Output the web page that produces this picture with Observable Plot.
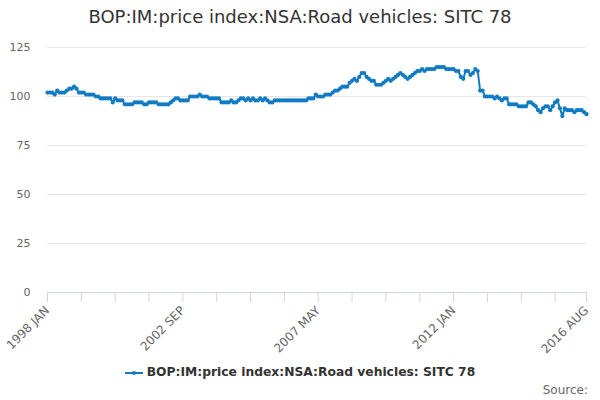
<!DOCTYPE html>
<html><head><meta charset="utf-8">
<script src="https://cdn.jsdelivr.net/npm/d3@7"></script>
<script src="https://cdn.jsdelivr.net/npm/@observablehq/plot@0.6"></script>
<style>
body{margin:0;font-family:"DejaVu Sans",sans-serif;background:#fff;}
#wrap{position:relative;width:600px;height:400px;overflow:hidden;}
#title{position:absolute;top:6px;left:0;width:600px;text-align:center;font-size:18px;color:#333;}
#chart{position:absolute;top:36px;left:0;}
#legend{position:absolute;top:365px;left:0;width:600px;text-align:center;font-size:12.3px;font-weight:bold;color:#333;}
#legend svg{vertical-align:middle;margin-right:4px;}
#source{position:absolute;top:383px;right:12px;font-size:12px;color:#666;}
</style></head>
<body>
<div id="wrap">
  <div id="title"></div>
  <div id="chart"></div>
  <div id="legend"></div>
  <div id="source">Source:</div>
</div>
<script>
const titleText = "BOP:IM:price index:NSA:Road vehicles: SITC 78";
const seriesName = "BOP:IM:price index:NSA:Road vehicles: SITC 78";
const startYear = 1998;
const monthNames = ["JAN","FEB","MAR","APR","MAY","JUN","JUL","AUG","SEP","OCT","NOV","DEC"];
const labelledMonths = ["1998 JAN","2002 SEP","2007 MAY","2012 JAN","2016 AUG"];
const yTicks = [0,25,50,75,100,125];
const values = [
  102,102,102,101,103,102,102,102,103,104,104,105,
  104,102,102,102,101,101,101,101,100,100,99,99,
  99,99,99,97,99,98,98,98,96,96,96,96,
  97,97,97,97,96,96,97,97,97,97,96,96,
  96,96,96,97,98,99,99,98,98,98,98,100,
  100,100,100,101,100,100,100,99,99,99,99,99,
  97,97,97,97,98,97,97,98,99,99,98,99,
  98,99,98,98,99,98,99,98,97,97,98,98,
  98,98,98,98,98,98,98,98,98,98,98,98,
  99,99,99,101,100,100,100,101,101,101,102,103,
  103,104,105,105,105,107,108,109,108,110,112,112,
  110,109,108,108,106,106,106,107,108,109,108,109,
  110,111,112,111,110,109,110,111,112,113,113,114,
  113,114,114,114,114,115,115,115,115,114,114,114,
  114,113,113,110,109,113,113,111,112,114,113,103,
  103,100,100,100,100,99,100,99,98,99,99,96,
  96,96,96,95,95,95,95,97,97,96,95,93,
  92,94,95,95,93,95,97,98,94,90,94,93,
  93,93,92,93,93,93,92,91
];
const color = "#117bc4";

const months = values.map((v, i) => (startYear + Math.floor(i / 12)) + " " + monthNames[i % 12]);
const data = values.map((v, i) => ({month: months[i], value: v}));
const tickMonths = months.filter((m, i) => i % 14 === 0 || i === months.length - 1);

document.getElementById("title").textContent = titleText;

const chart = Plot.plot({
  width: 600, height: 320,
  marginTop: 11, marginBottom: 64, marginLeft: 47, marginRight: 14,
  x: {type: "point", domain: months, padding: 0},
  y: {domain: [0, 125]},
  style: {fontFamily: "DejaVu Sans", fontSize: "11px", color: "#666", background: "transparent"},
  marks: [
    Plot.gridY(yTicks, {stroke: "#e6e6e6", strokeOpacity: 1}),
    Plot.axisY(yTicks, {tickSize: 0, tickPadding: 17, label: null, fill: "#666"}),
    Plot.ruleY([0], {stroke: "#ccd6eb"}),
    Plot.axisX(tickMonths, {tickSize: 10, stroke: "#ccd6eb", strokeOpacity: 1, tickFormat: () => "", label: null}),
    Plot.axisX(labelledMonths, {tickSize: 0, tickRotate: -45, tickPadding: 16, label: null, fill: "#666", fontSize: 12}),
    Plot.line(data, {x: "month", y: "value", stroke: color, strokeWidth: 2}),
    Plot.dot(data, {x: "month", y: "value", r: 2.1, fill: color})
  ]
});
document.getElementById("chart").appendChild(chart);

const legend = document.getElementById("legend");
legend.innerHTML = `<svg width="18" height="10"><line x1="0" y1="5" x2="18" y2="5" stroke="${color}" stroke-width="2"/><circle cx="9" cy="5" r="2" fill="${color}"/></svg>`;
legend.appendChild(document.createTextNode(seriesName));
</script>
</body></html>
